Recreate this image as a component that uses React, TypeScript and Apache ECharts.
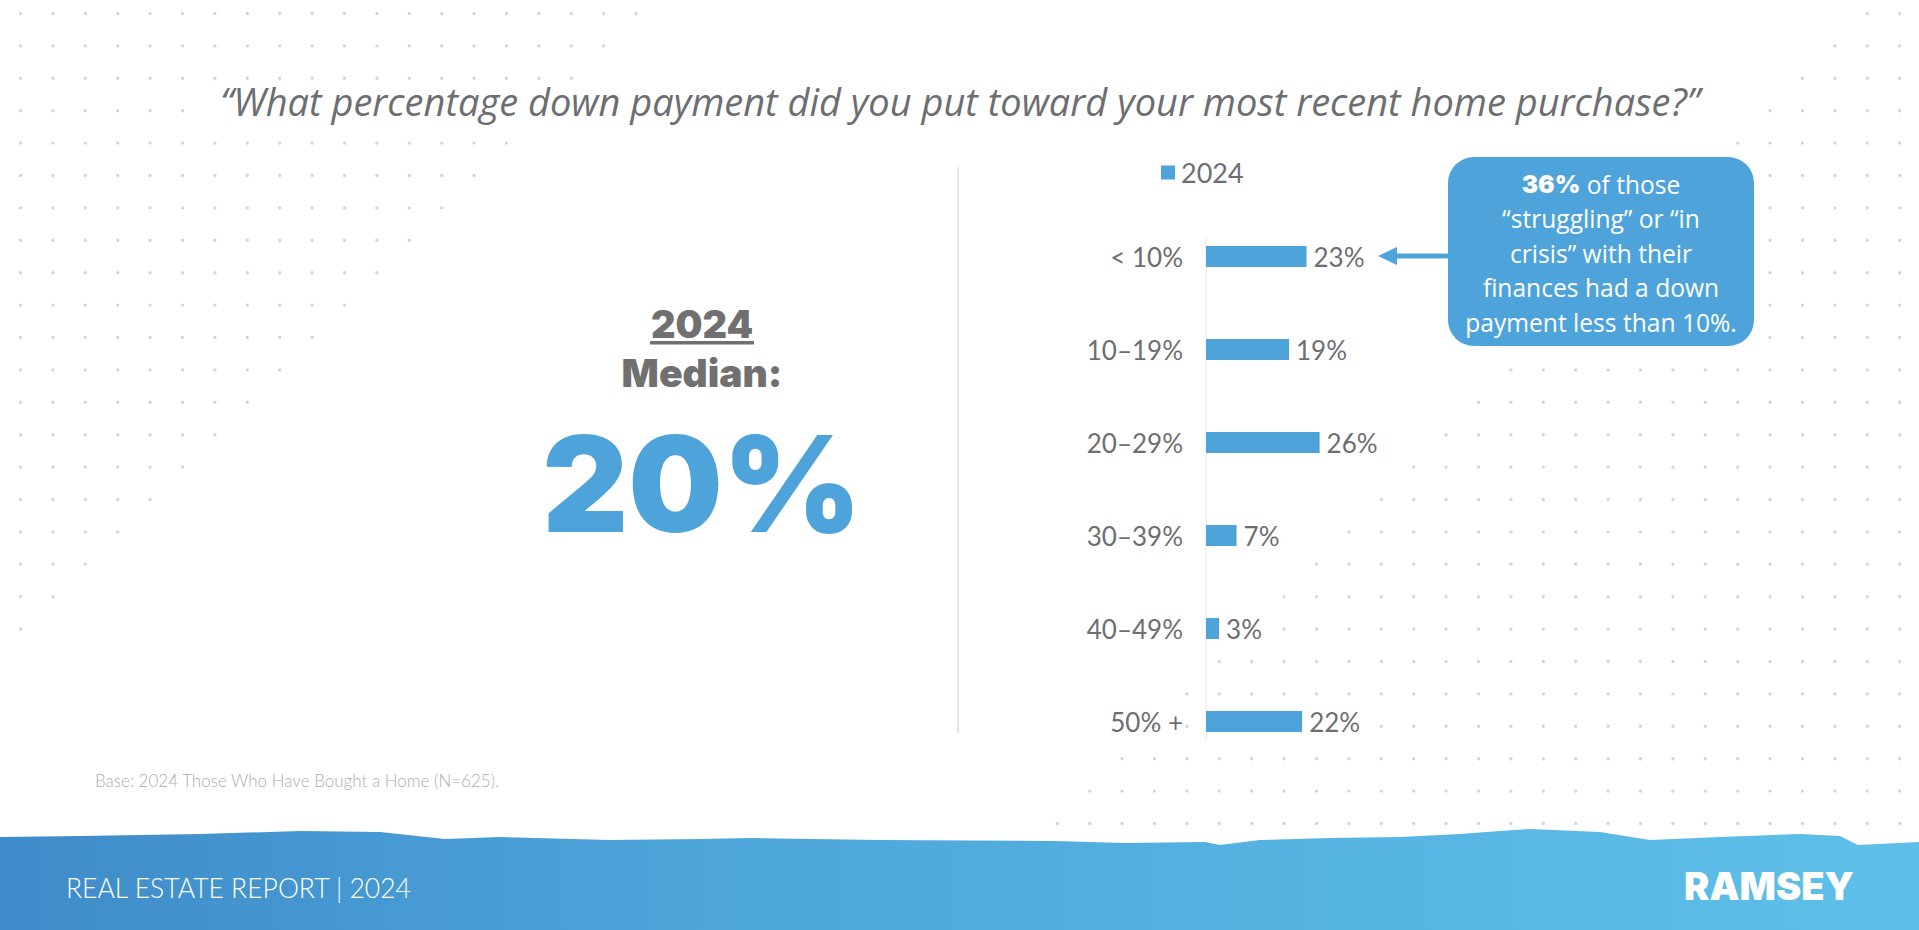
import React, { useEffect, useRef } from "react";
import * as echarts from "echarts";

const TITLE = "“What percentage down payment did you put toward your most recent home purchase?”";
const CATEGORIES = ["< 10%", "10–19%", "20–29%", "30–39%", "40–49%", "50% +"];
const VALUES_2024 = [23, 19, 26, 7, 3, 22];
const SERIES_NAME = "2024";
const MEDIAN_YEAR = "2024";
const MEDIAN_LABEL = "Median:";
const MEDIAN_VALUE = "20%";
const CALLOUT_LINES = [
  "{b|36%}{n| of those}",
  "{n|“struggling” or “in}",
  "{n|crisis” with their}",
  "{n|finances had a down}",
  "{n|payment less than 10%.}",
];
const BASE_NOTE = "Base: 2024 Those Who Have Bought a Home (N=625).";
const FOOTER_TEXT = "REAL ESTATE REPORT | 2024";
const BRAND = "RAMSEY";

const BLUE = "#4ea3da";
const GRAY = "#6d6e71";
const FONT = "Lato, 'Open Sans', sans-serif";
const FONT_WIDE = "'Open Sans', Lato, sans-serif";
const FONT_HEAVY = "Inter, 'Open Sans', sans-serif";

function buildDots() {
  const dots: any[] = [];
  const sp = 32.4;
  for (let k = 0; k <= 25; k++) {
    for (let i = 0; i <= 58; i++) {
      const left = i + k <= 19;
      const right = i >= 57 - k;
      if (!left && !right) continue;
      dots.push({
        type: "circle",
        silent: true,
        shape: { cx: 20.5 + sp * i, cy: 13.5 + sp * k, r: 1.7 },
        style: { fill: "#d6d6d6" },
      });
    }
  }
  return dots;
}

const WAVE = [
  [0, 837], [80, 836], [200, 834], [300, 831], [380, 832], [445, 839], [500, 837],
  [610, 840], [700, 839], [750, 838], [880, 840], [1055, 841], [1125, 843],
  [1205, 842], [1220, 845], [1260, 840], [1330, 838], [1400, 837], [1460, 834],
  [1500, 831], [1530, 829], [1600, 832], [1650, 840], [1720, 837], [1800, 834],
  [1840, 836], [1858, 845], [1919, 842], [1919, 930], [0, 930],
];

export default function App() {
  const ref = useRef<HTMLDivElement>(null);
  useEffect(() => {
    if (!ref.current) return;
    const chart = echarts.init(ref.current, undefined, { renderer: "svg" });
    const option: any = {
      animation: false,
      backgroundColor: "#ffffff",
      textStyle: { fontFamily: FONT },
      legend: {
        data: [SERIES_NAME],
        left: 1161,
        top: 159,
        padding: 0,
        icon: "rect",
        itemWidth: 14,
        itemHeight: 14,
        itemGap: 6,
        textStyle: { fontSize: 27, color: GRAY, fontFamily: FONT, padding: [0, 0, 0, 1] },
        selectedMode: false,
      },
      grid: { left: 1206, top: 210, width: 437, height: 558, containLabel: false },
      xAxis: { type: "value", min: 0, max: 100, show: false },
      yAxis: {
        type: "category",
        data: CATEGORIES,
        inverse: true,
        axisLine: { show: false },
        axisTick: { show: false },
        axisLabel: { fontSize: 26, color: GRAY, margin: 23, fontFamily: FONT },
        splitLine: { show: false },
      },
      series: [
        {
          name: SERIES_NAME,
          type: "bar",
          data: VALUES_2024,
          barWidth: 21,
          z: 5,
          itemStyle: { color: BLUE },
          label: {
            show: true,
            position: "right",
            distance: 7,
            formatter: "{c}%",
            fontSize: 26,
            color: GRAY,
            fontFamily: FONT,
            backgroundColor: "#ffffff",
          },
        },
      ],
      graphic: [
        { type: "group", z: 0, children: buildDots() },
        {
          type: "text",
          z: 10,
          x: 960,
          y: 101,
          style: {
            text: TITLE,
            fontFamily: FONT_WIDE,
            fontStyle: "italic",
            fontSize: 38,
            fill: GRAY,
            align: "center",
            verticalAlign: "middle",
            backgroundColor: "#ffffff",
            padding: [2, 14],
          },
        },
        {
          type: "line",
          z: 5,
          shape: { x1: 958, y1: 167, x2: 958, y2: 733 },
          style: { stroke: "#dcdcdc", lineWidth: 1.5 },
        },
        {
          type: "line",
          z: 5,
          shape: { x1: 1206, y1: 237, x2: 1206, y2: 741 },
          style: { stroke: "#e6e6e6", lineWidth: 1 },
        },
        {
          type: "text",
          z: 10,
          x: 702,
          y: 324,
          style: {
            text: MEDIAN_YEAR,
            fontFamily: FONT_HEAVY,
            fontWeight: 900,
            fontSize: 38,
            fill: "#707070",
            align: "center",
            verticalAlign: "middle",
          },
        },
        {
          type: "rect",
          z: 10,
          shape: { x: 650, y: 341, width: 104, height: 3.5 },
          style: { fill: "#707070" },
        },
        {
          type: "text",
          z: 10,
          x: 702,
          y: 372,
          style: {
            text: MEDIAN_LABEL,
            fontFamily: FONT_HEAVY,
            fontWeight: 900,
            fontSize: 39,
            fill: "#707070",
            align: "center",
            verticalAlign: "middle",
          },
        },
        {
          type: "text",
          z: 10,
          x: 702,
          y: 483,
          style: {
            text: MEDIAN_VALUE,
            fontFamily: FONT_HEAVY,
            fontWeight: 900,
            fontSize: 133,
            fill: BLUE,
            align: "center",
            verticalAlign: "middle",
          },
        },
        {
          type: "rect",
          z: 10,
          shape: { x: 1448, y: 157, width: 306, height: 189, r: 26 },
          style: { fill: BLUE },
        },
        {
          type: "text",
          z: 11,
          x: 1601,
          y: 253,
          style: {
            text: CALLOUT_LINES.join("\n"),
            align: "center",
            verticalAlign: "middle",
            fill: "#ffffff",
            fontFamily: FONT_WIDE,
            fontSize: 24.6,
            rich: {
              n: { fontFamily: FONT_WIDE, fontSize: 24.6, fill: "#ffffff", lineHeight: 34.5 },
              b: { fontFamily: FONT_HEAVY, fontSize: 24.6, fontWeight: 900, fill: "#ffffff", lineHeight: 34.5 },
            },
          },
        },
        {
          type: "line",
          z: 10,
          shape: { x1: 1394, y1: 256, x2: 1449, y2: 256 },
          style: { stroke: BLUE, lineWidth: 5 },
        },
        {
          type: "polygon",
          z: 10,
          shape: { points: [[1378, 256], [1397, 247], [1397, 265]] },
          style: { fill: BLUE },
        },
        {
          type: "text",
          z: 10,
          x: 95,
          y: 780,
          style: {
            text: BASE_NOTE,
            fontFamily: FONT,
            fontWeight: 300,
            fontSize: 17,
            fill: "#adadad",
            align: "left",
            verticalAlign: "middle",
          },
        },
        {
          type: "polygon",
          z: 20,
          shape: { points: WAVE },
          style: {
            fill: new echarts.graphic.LinearGradient(0, 0, 1, 0, [
              { offset: 0, color: "#3f8bc9" },
              { offset: 0.4, color: "#4ea7db" },
              { offset: 1, color: "#5ec0e9" },
            ]),
          },
        },
        {
          type: "text",
          z: 21,
          x: 66,
          y: 888,
          style: {
            text: FOOTER_TEXT,
            fontFamily: FONT,
            fontWeight: 300,
            fontSize: 26.5,
            fill: "#ffffff",
            align: "left",
            verticalAlign: "middle",
          },
        },
        {
          type: "text",
          z: 21,
          x: 1769,
          y: 886,
          style: {
            text: BRAND,
            fontFamily: FONT_HEAVY,
            fontWeight: 900,
            fontSize: 38,
            fill: "#ffffff",
            align: "center",
            verticalAlign: "middle",
          },
        },
      ],
    };
    chart.setOption(option);
    return () => chart.dispose();
  }, []);
  return (
    <div
      ref={ref}
      style={{ position: "fixed", left: 0, top: 0, width: 1919, height: 930 }}
    />
  );
}
